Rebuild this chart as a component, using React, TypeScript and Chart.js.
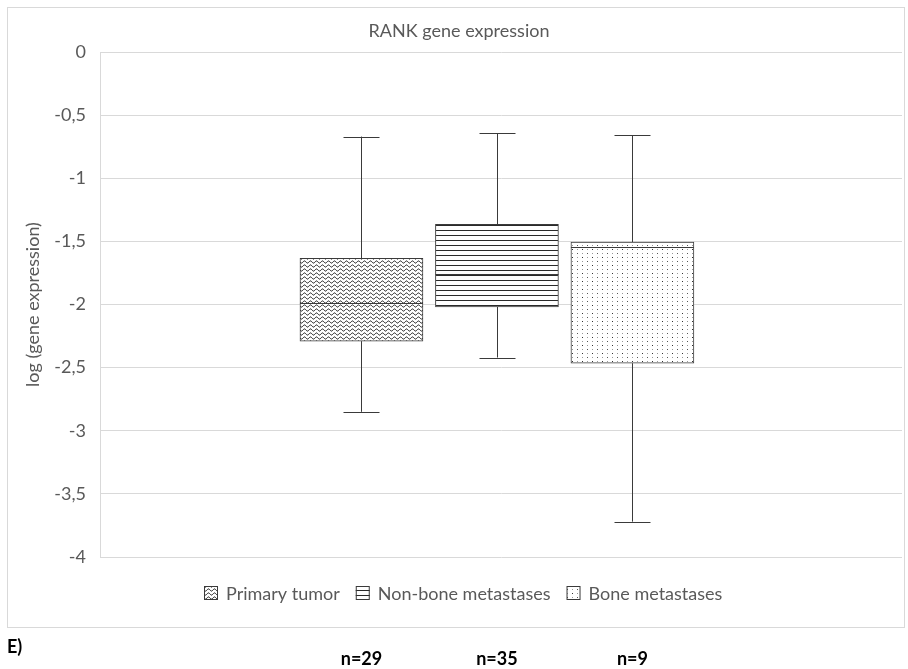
import { useEffect, useRef } from 'react';
import { Chart, registerables } from 'chart.js';

Chart.register(...registerables);

// ---- data ----
const TITLE = 'RANK gene expression';
const Y_TITLE = 'log (gene expression)';
const PANEL_LABEL = 'E)';
const GROUPS = ['Primary tumor', 'Non-bone metastases', 'Bone metastases'];
const SAMPLE_SIZES = ['n=29', 'n=35', 'n=9'];
const WHISKER_MAX = [-0.67, -0.645, -0.66];
const Q3 = [-1.635, -1.365, -1.505];
const MEDIAN = [-1.985, -1.76, -1.545];
const Q1 = [-2.29, -2.02, -2.465];
const WHISKER_MIN = [-2.85, -2.42, -3.72];
const Y_MIN = -4;
const Y_MAX = 0;
const Y_STEP = 0.5;

// ---- styling ----
const FONT = 'Lato, "Open Sans", sans-serif';
const TEXT = '#595959';
const GRID = '#d9d9d9';
const INK = '#3a3a3a';
const W = 908;
const H = 669;

type PatternKind = 'wave' | 'lines' | 'dots';
const PATTERNS: PatternKind[] = ['wave', 'lines', 'dots'];

function makeTile(kind: PatternKind): HTMLCanvasElement {
  const c = document.createElement('canvas');
  const ctx = c.getContext('2d')!;
  if (kind === 'wave') {
    c.width = 6;
    c.height = 4;
    ctx.fillStyle = '#fff';
    ctx.fillRect(0, 0, 6, 4);
    ctx.strokeStyle = '#1a1a1a';
    ctx.lineWidth = 1;
    ctx.beginPath();
    for (let x = -1; x <= 7; x += 0.5) {
      const y = 2 + 1.1 * Math.sin((2 * Math.PI * x) / 6);
      if (x === -1) ctx.moveTo(x, y);
      else ctx.lineTo(x, y);
    }
    ctx.stroke();
  } else if (kind === 'lines') {
    c.width = 4;
    c.height = 5;
    ctx.fillStyle = '#fff';
    ctx.fillRect(0, 0, 4, 5);
    ctx.fillStyle = '#2a2a2a';
    ctx.fillRect(0, 0, 4, 1);
  } else {
    c.width = 10;
    c.height = 8;
    ctx.fillStyle = '#fff';
    ctx.fillRect(0, 0, 10, 8);
    const dots: [number, number, string][] = [
      [2, 1, '#333'],
      [7, 1, '#999'],
      [2, 5, '#999'],
      [7, 5, '#555'],
    ];
    for (const [x, y, col] of dots) {
      ctx.fillStyle = col;
      ctx.fillRect(x, y, 1, 1);
    }
  }
  return c;
}

// whiskers, caps and median lines on top of the floating boxes
const boxDecor = {
  id: 'boxDecor',
  afterDatasetsDraw(chart: any) {
    const { ctx, scales } = chart;
    const y = scales.y;
    ctx.save();
    ctx.strokeStyle = INK;
    ctx.lineWidth = 1;
    chart.data.datasets.forEach((_: any, i: number) => {
      const bar = chart.getDatasetMeta(i).data[0];
      if (!bar) return;
      const { x, width } = bar.getProps(['x', 'width'], true);
      const cx = Math.round(x) + 0.5;
      const yMax = y.getPixelForValue(WHISKER_MAX[i]);
      const yQ3 = y.getPixelForValue(Q3[i]);
      const yQ1 = y.getPixelForValue(Q1[i]);
      const yMin = y.getPixelForValue(WHISKER_MIN[i]);
      const yMed = Math.round(y.getPixelForValue(MEDIAN[i])) + 0.5;
      const cap = 18;
      ctx.beginPath();
      ctx.moveTo(cx, yMax);
      ctx.lineTo(cx, yQ3);
      ctx.moveTo(cx, yQ1);
      ctx.lineTo(cx, yMin);
      ctx.moveTo(cx - cap, Math.round(yMax) + 0.5);
      ctx.lineTo(cx + cap, Math.round(yMax) + 0.5);
      ctx.moveTo(cx - cap, Math.round(yMin) + 0.5);
      ctx.lineTo(cx + cap, Math.round(yMin) + 0.5);
      ctx.moveTo(x - width / 2, yMed);
      ctx.lineTo(x + width / 2, yMed);
      ctx.stroke();
    });
    ctx.restore();
  },
};

// outer frame, title, legend and the sample-size row
const decorations = {
  id: 'decorations',
  beforeDraw(chart: any) {
    const { ctx } = chart;
    ctx.save();
    ctx.fillStyle = '#fff';
    ctx.fillRect(0, 0, W, H);
    ctx.strokeStyle = GRID;
    ctx.lineWidth = 1;
    ctx.strokeRect(7.5, 7.5, 897, 620);
    ctx.restore();
  },
  afterDraw(chart: any) {
    const { ctx } = chart;
    ctx.save();
    // title
    ctx.fillStyle = TEXT;
    ctx.font = `18px ${FONT}`;
    ctx.textAlign = 'center';
    ctx.textBaseline = 'middle';
    ctx.fillText(TITLE, 459, 31);

    // legend
    const box = 14;
    const gapIcon = 8;
    const gapItem = 16;
    ctx.font = `18px ${FONT}`;
    const widths = GROUPS.map((g) => ctx.measureText(g).width);
    const total =
      widths.reduce((a, b) => a + b, 0) + GROUPS.length * (box + gapIcon) + (GROUPS.length - 1) * gapItem;
    let lx = Math.round(463 - total / 2);
    const ly = 593;
    ctx.textAlign = 'left';
    chart.data.datasets.forEach((ds: any, i: number) => {
      ctx.fillStyle = ds.backgroundColor;
      ctx.fillRect(lx, ly - box / 2, box, box);
      ctx.strokeStyle = INK;
      ctx.strokeRect(lx + 0.5, ly - box / 2 + 0.5, box - 1, box - 1);
      ctx.fillStyle = TEXT;
      ctx.fillText(GROUPS[i], lx + box + gapIcon, ly + 1);
      lx += box + gapIcon + widths[i] + gapItem;
    });

    // panel label and sample sizes below the frame
    ctx.fillStyle = '#000';
    ctx.font = `bold 18px ${FONT}`;
    ctx.textAlign = 'left';
    ctx.fillText(PANEL_LABEL, 7, 647);
    ctx.font = `bold 18px ${FONT}`;
    ctx.textAlign = 'center';
    chart.data.datasets.forEach((_: any, i: number) => {
      const bar = chart.getDatasetMeta(i).data[0];
      if (bar) ctx.fillText(SAMPLE_SIZES[i], bar.x, 659);
    });
    ctx.restore();
  },
};

export default function App() {
  const ref = useRef<HTMLCanvasElement | null>(null);

  useEffect(() => {
    const canvas = ref.current;
    if (!canvas) return;
    const patternCtx = canvas.getContext('2d')!;
    const fills = PATTERNS.map((k) => patternCtx.createPattern(makeTile(k), 'repeat'));

    const chart = new Chart(canvas, {
      type: 'bar',
      data: {
        datasets: GROUPS.map((g, i) => ({
          label: g,
          data: [{ x: i, y: [Q1[i], Q3[i]] }],
          backgroundColor: fills[i] as any,
          borderColor: INK,
          borderWidth: 1,
          borderSkipped: false,
          barThickness: 123,
          grouped: false,
        })) as any,
      },
      options: {
        responsive: false,
        animation: false,
        layout: { padding: { left: 0, top: 52, right: 6, bottom: 112 } },
        plugins: {
          legend: { display: false },
          title: { display: false },
          tooltip: { enabled: false },
        },
        scales: {
          x: {
            type: 'linear',
            display: false,
            offset: false,
            min: -1.93,
            max: 3.99,
          },
          y: {
            min: Y_MIN,
            max: Y_MAX,
            ticks: {
              stepSize: Y_STEP,
              padding: 14,
              color: TEXT,
              font: { family: FONT, size: 18 },
              callback: (v: any) => String(v).replace('.', ','),
            },
            grid: { color: GRID, drawTicks: false },
            border: { color: GRID },
            title: {
              display: true,
              text: Y_TITLE,
              color: TEXT,
              font: { family: FONT, size: 18 },
              padding: { top: 22, bottom: 0 },
            },
            afterFit: (s: any) => {
              s.width = 100;
            },
          },
        },
      } as any,
      plugins: [decorations, boxDecor],
    });
    return () => chart.destroy();
  }, []);

  return (
    <div style={{ position: 'absolute', left: 0, top: 0, width: W, height: H }}>
      <canvas ref={ref} width={W} height={H} style={{ display: 'block' }} />
    </div>
  );
}
